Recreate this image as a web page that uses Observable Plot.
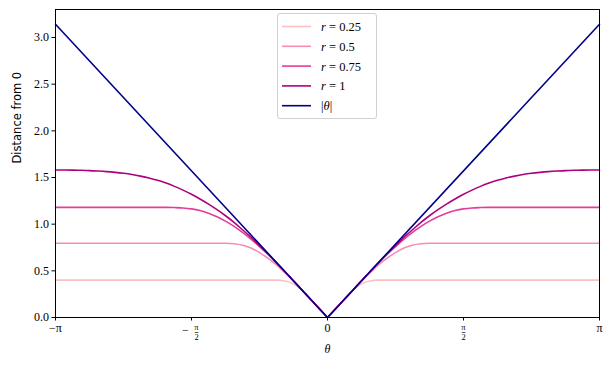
<!DOCTYPE html>
<html><head><meta charset="utf-8">
<script src="https://cdn.jsdelivr.net/npm/d3@7"></script>
<script src="https://cdn.jsdelivr.net/npm/@observablehq/plot@0.6"></script>
<style>
body{margin:0;background:#fff}
#c{position:relative;width:611px;height:369px;overflow:hidden}
#legend{position:absolute;left:277px;top:13px;width:98px;height:104px;border:1px solid #d0d0d0;border-radius:3px;background:rgba(255,255,255,0.85)}
</style>
</head><body><div id="c"></div>
<script>
// theta grid (radians), -pi .. pi, step pi/32
const thetas = [-3.142,-3.043,-2.945,-2.847,-2.749,-2.651,-2.553,-2.454,-2.356,-2.258,-2.160,-2.062,-1.963,-1.865,-1.767,-1.669,-1.571,-1.473,-1.374,-1.276,-1.178,-1.080,-0.982,-0.884,-0.785,-0.687,-0.589,-0.491,-0.393,-0.295,-0.196,-0.098,0,
0.098,0.196,0.295,0.393,0.491,0.589,0.687,0.785,0.884,0.982,1.080,1.178,1.276,1.374,1.473,1.571,1.669,1.767,1.865,1.963,2.062,2.160,2.258,2.356,2.454,2.553,2.651,2.749,2.847,2.945,3.043,3.142];

const r025 = [0.40,0.40,0.40,0.40,0.40,0.40,0.40,0.40,0.40,0.40,0.40,0.40,0.40,0.40,0.40,0.40,0.40,0.40,0.40,0.40,0.40,0.40,0.40,0.40,0.40,0.40,0.40,0.392,0.36,0.29,0.196,0.098,0,
0.098,0.196,0.29,0.36,0.392,0.40,0.40,0.40,0.40,0.40,0.40,0.40,0.40,0.40,0.40,0.40,0.40,0.40,0.40,0.40,0.40,0.40,0.40,0.40,0.40,0.40,0.40,0.40,0.40,0.40,0.40,0.40];

const r05 = [0.795,0.795,0.795,0.795,0.795,0.795,0.795,0.795,0.795,0.795,0.795,0.795,0.795,0.795,0.795,0.795,0.795,0.795,0.795,0.795,0.795,0.79,0.775,0.745,0.695,0.635,0.565,0.48,0.39,0.295,0.196,0.098,0,
0.098,0.196,0.295,0.39,0.48,0.565,0.635,0.695,0.745,0.775,0.79,0.795,0.795,0.795,0.795,0.795,0.795,0.795,0.795,0.795,0.795,0.795,0.795,0.795,0.795,0.795,0.795,0.795,0.795,0.795,0.795,0.795];

const r075 = [1.18,1.18,1.18,1.18,1.18,1.18,1.18,1.18,1.18,1.18,1.18,1.18,1.18,1.18,1.178,1.174,1.164,1.146,1.118,1.08,1.032,0.976,0.912,0.84,0.76,0.675,0.585,0.49,0.393,0.295,0.196,0.098,0,
0.098,0.196,0.295,0.393,0.49,0.585,0.675,0.76,0.84,0.912,0.976,1.032,1.08,1.118,1.146,1.164,1.174,1.178,1.18,1.18,1.18,1.18,1.18,1.18,1.18,1.18,1.18,1.18,1.18,1.18,1.18,1.18];

const r1 = [1.58,1.58,1.579,1.577,1.574,1.569,1.563,1.555,1.545,1.532,1.515,1.495,1.47,1.44,1.405,1.365,1.32,1.27,1.215,1.155,1.09,1.02,0.94,0.86,0.77,0.68,0.587,0.49,0.393,0.295,0.196,0.098,0,
0.098,0.196,0.295,0.393,0.49,0.587,0.68,0.77,0.86,0.94,1.02,1.09,1.155,1.215,1.27,1.32,1.365,1.405,1.44,1.47,1.495,1.515,1.532,1.545,1.555,1.563,1.569,1.574,1.577,1.579,1.58,1.58];

const absTheta = [-3.1416, 0, 3.1416];
const absDist = [3.1416, 0, 3.1416];

const seriesKeys = ["r=0.25","r=0.5","r=0.75","r=1"];
const seriesValues = [r025, r05, r075, r1];
const seriesColors = ["#fbc0c2","#f78db2","#e43d98","#ae017e"];
const absColor = "#00008b";

const yTicks = [0,0.5,1,1.5,2,2.5,3];
const xTicks = [-3.14159265, -1.57079633, 0, 1.57079633, 3.14159265];
const xPlainLabels = ["−π", "", "0", "", "π"];
const xFracSign = ["", "−", "", "", ""];

// build tidy rows; split each series at theta = 0 so the V tip stays sharp
const rows = [];
seriesKeys.forEach((k, si) => {
  const vals = seriesValues[si];
  const n = Math.min(vals.length, thetas.length);
  for (let i = 0; i < n; i++) {
    const t = thetas[i], v = vals[i];
    if (t <= 0) rows.push({theta: t, d: v, series: k, z: k + "L"});
    if (t >= 0) rows.push({theta: t, d: v, series: k, z: k + "R"});
  }
});
const absRows = absTheta.map((t, i) => ({theta: t, d: absDist[i]}));

const serif = "Liberation Serif, DejaVu Serif, serif";
const tickIdx = xTicks.map((t, i) => ({t, i}));
const fracTicks = tickIdx.filter(d => xPlainLabels[d.i] === "");
const fracDx = d => (xFracSign[d.i] !== "" ? 5 : 0);

const chart = Plot.plot({
  width: 611, height: 369,
  marginLeft: 55, marginRight: 12, marginTop: 9, marginBottom: 52,
  style: {fontFamily: serif, fontSize: "12px", color: "black", background: "white"},
  x: {domain: [-Math.PI, Math.PI]},
  y: {domain: [0, 3.3]},
  color: {domain: seriesKeys, range: seriesColors},
  marks: [
    Plot.line(rows, {x: "theta", y: "d", z: "z", stroke: "series", strokeWidth: 1.6, curve: "monotone-x"}),
    Plot.line(absRows, {x: "theta", y: "d", stroke: absColor, strokeWidth: 1.6}),
    Plot.frame({stroke: "black", strokeWidth: 1}),
    Plot.axisY({ticks: yTicks, tickFormat: d => d.toFixed(1), tickSize: 3.5, tickPadding: 3, label: null, fontSize: 12}),
    Plot.axisX({ticks: xTicks, tickFormat: () => "", tickSize: 3.5, label: null}),
    // plain x tick labels
    Plot.text(tickIdx.filter(d => xPlainLabels[d.i] !== ""), {x: "t", text: d => xPlainLabels[d.i], frameAnchor: "bottom", dy: 14, fontSize: 12}),
    // fraction x tick labels (pi over 2)
    ...fracTicks.map(d => Plot.text([d], {x: "t", text: () => "π", frameAnchor: "bottom", dy: 12.5, dx: fracDx(d), fontSize: 8.5})),
    ...fracTicks.map(d => Plot.text([d], {x: "t", text: () => "2", frameAnchor: "bottom", dy: 22.5, dx: fracDx(d), fontSize: 8.5})),
    ...fracTicks.map(d => Plot.text([d], {x: "t", text: () => "–", frameAnchor: "bottom", dy: 17, dx: fracDx(d), fontSize: 9, fontFamily: "DejaVu Sans"})),
    Plot.text(tickIdx.filter(d => xFracSign[d.i] !== ""), {x: "t", text: d => xFracSign[d.i], frameAnchor: "bottom", dy: 16.5, dx: -6, fontSize: 12}),
    Plot.text(["θ"], {frameAnchor: "bottom", dy: 35, fontSize: 12, fontStyle: "italic"}),
    Plot.text(["Distance from 0"], {frameAnchor: "left", rotate: -90, dx: -38, fontSize: 11.5, fontFamily: "DejaVu Sans"})
  ]
});
const c = document.getElementById("c");
c.appendChild(chart);

// legend
const legendItems = [
  {label: "0.25", color: seriesColors[0]},
  {label: "0.5", color: seriesColors[1]},
  {label: "0.75", color: seriesColors[2]},
  {label: "1", color: seriesColors[3]}
];
let svg = `<svg width="98" height="104" xmlns="http://www.w3.org/2000/svg" style="font-family:${serif};font-size:12.5px">`;
legendItems.forEach((it, i) => {
  const y = 12.5 + i * 19.8;
  svg += `<line x1="4" x2="33" y1="${y}" y2="${y}" stroke="${it.color}" stroke-width="1.6"/>`;
  svg += `<text x="43" y="${y + 4.5}"><tspan font-style="italic">r</tspan> = ${it.label}</text>`;
});
{
  const y = 12.5 + 4 * 19.8;
  svg += `<line x1="4" x2="33" y1="${y}" y2="${y}" stroke="${absColor}" stroke-width="1.6"/>`;
  svg += `<text x="43" y="${y + 4.5}">|<tspan font-style="italic">θ</tspan>|</text>`;
}
svg += `</svg>`;
const lg = document.createElement("div");
lg.id = "legend";
lg.innerHTML = svg;
c.appendChild(lg);
</script>
</body></html>
